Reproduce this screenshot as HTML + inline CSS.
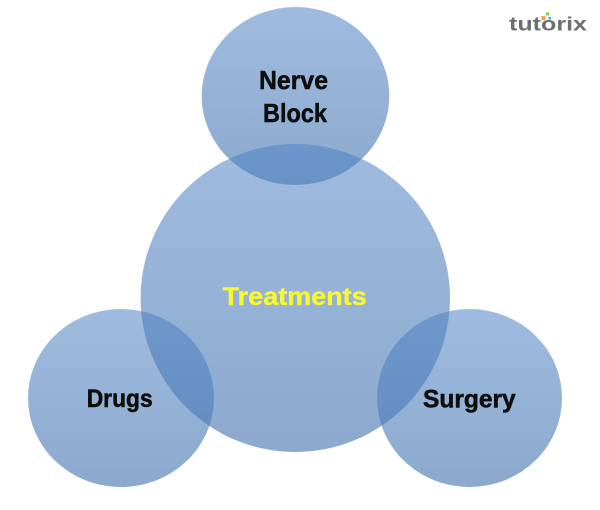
<!DOCTYPE html>
<html>
<head>
<meta charset="utf-8">
<style>
  html, body { margin: 0; padding: 0; background: #ffffff; }
  svg { display: block; }
</style>
</head>
<body>
<svg width="600" height="510" viewBox="0 0 600 510" xmlns="http://www.w3.org/2000/svg">
  <defs>
    <linearGradient id="g" x1="0" y1="0" x2="0" y2="1">
      <stop offset="0" stop-color="#4d82c4" stop-opacity="0.54"/>
      <stop offset="1" stop-color="#4876b0" stop-opacity="0.63"/>
    </linearGradient>
  </defs>
  <rect x="0" y="0" width="600" height="510" fill="#ffffff"/>

  <!-- circles -->
  <ellipse cx="295.5" cy="96" rx="93.8" ry="89" fill="url(#g)"/>
  <ellipse cx="295.3" cy="298" rx="154.7" ry="154" fill="url(#g)"/>
  <ellipse cx="121" cy="398" rx="93" ry="89" fill="url(#g)"/>
  <ellipse cx="469.5" cy="398" rx="92.5" ry="89" fill="url(#g)"/>

  <!-- labels -->
  <g font-family="'Liberation Sans', Arial, sans-serif" font-weight="bold" fill="#0d0d0d" stroke="#0d0d0d" stroke-width="0.5">
    <text x="259" y="89" font-size="26" textLength="69" lengthAdjust="spacingAndGlyphs">Nerve</text>
    <text x="263" y="122" font-size="26" textLength="64" lengthAdjust="spacingAndGlyphs">Block</text>
    <text x="86.7" y="407" font-size="25" textLength="66" lengthAdjust="spacingAndGlyphs">Drugs</text>
    <text x="423" y="407.5" font-size="25" textLength="92.7" lengthAdjust="spacingAndGlyphs">Surgery</text>
  </g>
  <text x="222.7" y="305" font-family="'Liberation Sans', Arial, sans-serif" font-weight="bold" font-size="25" fill="#f8f832" stroke="#f8f832" stroke-width="0.4" textLength="144" lengthAdjust="spacingAndGlyphs">Treatments</text>

  <!-- logo -->
  <rect x="541.5" y="16" width="4" height="4" fill="#f0a050"/>
  <rect x="546" y="12.5" width="3" height="3" fill="#8cc84b"/>
  <rect x="548.5" y="17" width="2.5" height="2.5" fill="#5aa0dc"/>
  <text x="509" y="30.5" font-family="'Liberation Sans', Arial, sans-serif" font-weight="bold" font-size="19" fill="#6f6f6f" textLength="78" lengthAdjust="spacingAndGlyphs">tutorix</text>
</svg>
</body>
</html>
